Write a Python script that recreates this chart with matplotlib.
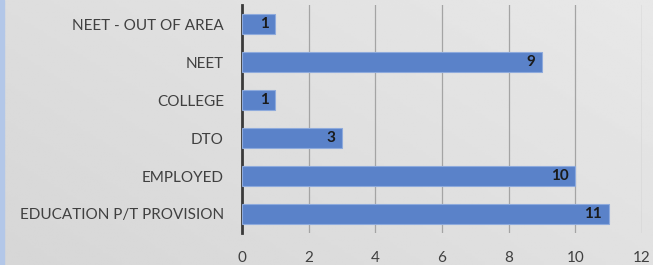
import numpy as np
import matplotlib.pyplot as plt

categories = ['EDUCATION P/T PROVISION', 'EMPLOYED', 'DTO', 'COLLEGE', 'NEET', 'NEET - OUT OF AREA']
values = [11, 10, 3, 1, 9, 1]
xticks = [0, 2, 4, 6, 8, 10, 12]

plt.rcParams['font.family'] = ['Lato', 'DejaVu Sans']

fig = plt.figure(figsize=(6.53, 2.65), dpi=100)

# grey gradient background
bg = fig.add_axes([0, 0, 1, 1], zorder=0)
gx, gy = np.meshgrid(np.linspace(0, 1, 200), np.linspace(0, 1, 100))
grad = 0.84 + 0.07 * (0.6 * gx + 0.4 * (1 - gy))
bg.imshow(grad, cmap='gray', vmin=0, vmax=1, aspect='auto', extent=[0, 1, 0, 1])
bg.add_patch(plt.Rectangle((0, 0), 4 / 653, 1, color='#b3c7e8', transform=bg.transAxes))
bg.axis('off')

ax = fig.add_axes([242 / 653, 32 / 265, 400 / 653, 228 / 265], zorder=1)
ax.patch.set_alpha(0)
y = np.arange(len(categories))
bars = ax.barh(y, values, height=0.55, color='#5a82c9', edgecolor='#8eaadc', linewidth=0.8, zorder=3)

for b, v in zip(bars, values):
    ax.text(v - 0.2, b.get_y() + b.get_height() / 2, str(v), ha='right', va='center',
            fontsize=11, fontweight='bold', color='#1a1a1a', zorder=4)

ax.set_xlim(0, 12)
ax.set_ylim(-0.5, 5.5)
ax.set_xticks(xticks)
ax.set_yticks(y)
ax.set_yticklabels(categories)
ax.xaxis.grid(True, color='#a4a4a4', linewidth=0.9)
ax.set_axisbelow(True)
for s in ['top', 'right', 'bottom']:
    ax.spines[s].set_visible(False)
ax.spines['left'].set_color('#3a3a3a')
ax.spines['left'].set_linewidth(2)
ax.tick_params(axis='both', length=0, labelsize=11, colors='#404040')
ax.tick_params(axis='y', pad=13)
ax.tick_params(axis='x', pad=13)

fig.savefig('out.png', dpi=100)
